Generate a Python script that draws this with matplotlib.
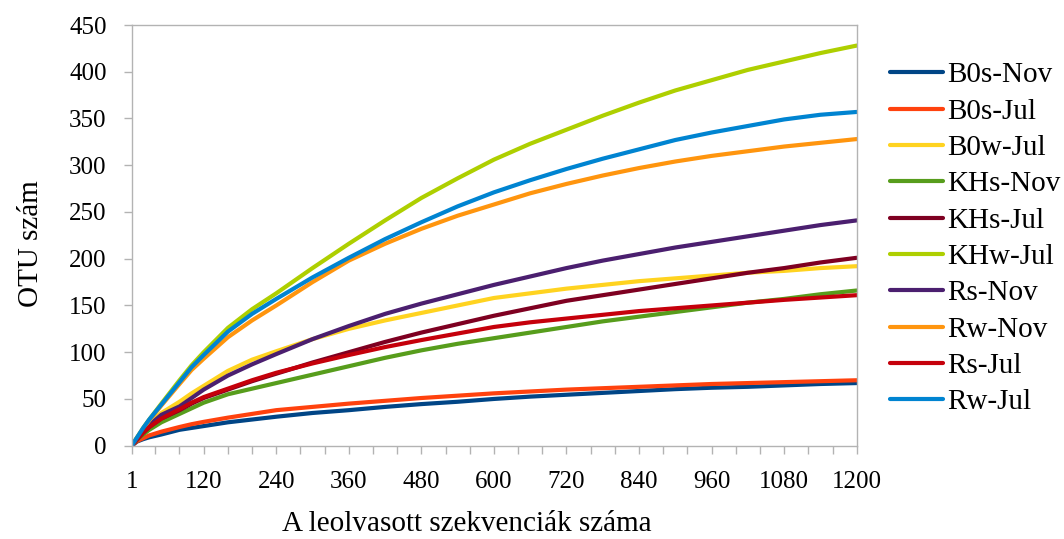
import numpy as np
import matplotlib
matplotlib.use("Agg")
import matplotlib.pyplot as plt
from matplotlib.ticker import MultipleLocator, FixedLocator

plt.rcParams['font.family'] = ['Liberation Serif', 'DejaVu Serif']

# leolvasott szekvenciák száma (mintavételi pontok)
szekv = [1, 10, 20, 30, 50, 80, 100, 120, 160, 200, 240, 300, 360, 420, 480,
         540, 600, 660, 720, 780, 840, 900, 960, 1020, 1080, 1140, 1200]

# OTU szám minden mintára
B0s_Nov = [0, 4.5, 7, 9, 12, 17, 19, 21, 25, 28, 31, 35, 38, 41.5, 44.5,
           47, 50, 52.5, 54.5, 56.5, 58.5, 60.5, 62, 63, 64.5, 66, 67]
B0s_Jul = [0, 5, 8, 11, 15, 20, 23, 25.5, 30, 34, 38, 41.5, 45, 48, 51,
           53.5, 56, 58, 60, 61.5, 63, 64.5, 66, 67, 68, 69, 70]
B0w_Jul = [0, 8, 16, 24, 35, 47, 56, 64, 80, 92, 101, 114, 125, 134, 142,
           150, 158, 163, 168, 172, 176, 179, 182, 185, 187, 190, 192]
KHs_Nov = [0, 6.5, 12, 17, 25, 34, 40, 46, 55, 61, 67, 76, 85, 94, 102,
           109, 115, 121, 127, 133, 138, 143, 148, 153, 157, 162, 166]
KHs_Jul = [0, 7, 14, 20, 29, 38, 45, 51, 60, 69, 77, 89, 100, 111, 121,
           130, 139, 147, 155, 161, 167, 173, 179, 185, 190, 196, 201]
KHw_Jul = [0, 9, 19, 28, 45, 70, 86, 100, 126, 146, 163, 190, 216, 241, 265,
           286, 306, 323, 338, 353, 367, 380, 391, 402, 411, 420, 428]
Rs_Nov = [0, 7.5, 15, 22, 33, 42, 51, 60, 75, 87, 98, 114, 128, 141, 152,
          162, 172, 181, 190, 198, 205, 212, 218, 224, 230, 236, 241]
Rw_Nov = [0, 8.5, 18, 27, 43, 66, 81, 93, 116, 134, 150, 175, 198, 216, 232,
          246, 258, 270, 280, 289, 297, 304, 310, 315, 320, 324, 328]
Rs_Jul = [0, 7, 14, 20, 29, 39, 46, 52, 61, 70, 78, 88, 97, 105.5, 113,
          120, 127, 132, 136, 140, 144, 147, 150, 153, 156, 158.5, 161]
Rw_Jul = [0, 9, 19, 28, 44, 68, 84, 97, 122, 141, 157, 180, 201, 221, 239,
          256, 271, 284, 296, 307, 317, 327, 335, 342, 349, 354, 357]

sorozatok = [
    ("B0s-Nov", B0s_Nov, "#004586"),
    ("B0s-Jul", B0s_Jul, "#ff420e"),
    ("B0w-Jul", B0w_Jul, "#ffd320"),
    ("KHs-Nov", KHs_Nov, "#579d1c"),
    ("KHs-Jul", KHs_Jul, "#7e0021"),
    ("KHw-Jul", KHw_Jul, "#aecf00"),
    ("Rs-Nov", Rs_Nov, "#4b1f6f"),
    ("Rw-Nov", Rw_Nov, "#ff950e"),
    ("Rs-Jul", Rs_Jul, "#c5000b"),
    ("Rw-Jul", Rw_Jul, "#0084d1"),
]

fig = plt.figure(figsize=(10.64, 5.39), dpi=100)
ax = fig.add_axes([0.1238, 0.1731, 0.6814, 0.7805])

for nev, y, szin in sorozatok:
    ax.plot(szekv, y, color=szin, lw=3, label=nev,
            solid_capstyle='round', solid_joinstyle='round')

ax.set_xlim(1, 1200)
ax.set_ylim(0, 450)
ax.xaxis.set_major_locator(FixedLocator([1] + list(range(120, 1201, 120))))
ax.xaxis.set_minor_locator(MultipleLocator(40))
ax.yaxis.set_major_locator(MultipleLocator(50))

szurke = "#b3b3b3"
for s in ax.spines.values():
    s.set_color(szurke)
    s.set_linewidth(1)
ax.tick_params(which='both', direction='out', color=szurke, length=6, width=1)
ax.tick_params(axis='x', which='minor', labelbottom=False)
ax.tick_params(axis='x', labelsize=18, pad=12)
ax.tick_params(axis='y', labelsize=18, pad=12)

ax.set_xlabel("A leolvasott szekvenciák száma", fontsize=21, labelpad=13)
ax.set_ylabel("OTU szám", fontsize=21, labelpad=18)
ax.xaxis.label.set_x(0.4625)
ax.yaxis.label.set_y(0.48)

ax.legend(loc='upper left', bbox_to_anchor=(0.8365, 0.885), bbox_transform=fig.transFigure,
          frameon=False, fontsize=21, handlelength=1.8, handletextpad=0.17,
          labelspacing=0.34, borderaxespad=0, borderpad=0)

fig.savefig("out.png", dpi=100)
